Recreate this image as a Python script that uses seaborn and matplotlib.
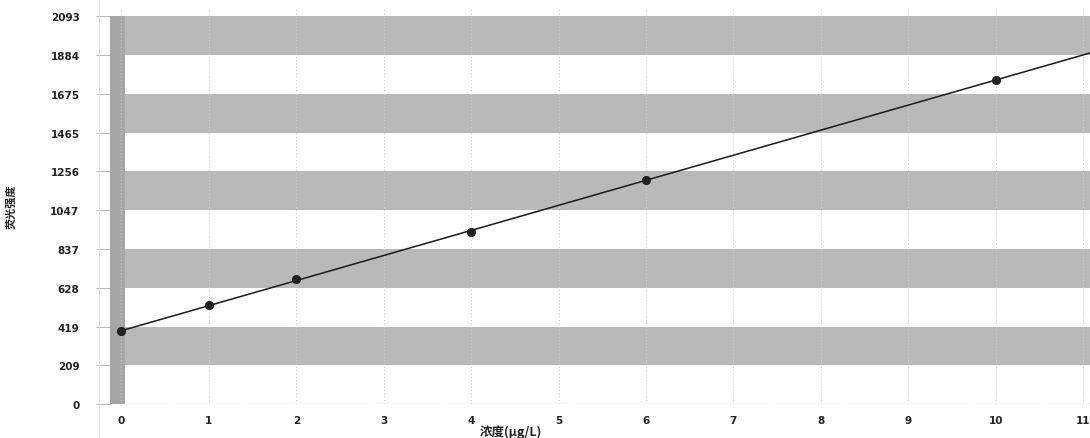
import numpy as np
import pandas as pd
import matplotlib
matplotlib.use("Agg")
import matplotlib.pyplot as plt
import seaborn as sns

# Calibration standards: concentration vs fluorescence intensity
conc = [0, 1, 2, 4, 6, 10]
intensity = [394, 534, 674, 928, 1208, 1750]
y_ticks = [0, 209, 419, 628, 837, 1047, 1256, 1465, 1675, 1884, 2093]
x_ticks = list(range(0, 12))

sns.set_theme(style="white")
plt.rcParams["font.family"] = ["Noto Sans CJK SC", "DejaVu Sans"]

df = pd.DataFrame({"conc": conc, "intensity": intensity})
slope, intercept = np.polyfit(conc, intensity, 1)

fig = plt.figure(figsize=(10.9, 4.39), dpi=100)
ax = fig.add_axes([0.101, 0.077, 0.899, 0.90])
x_lo, x_hi = -0.13, 11.08
ax.set_xlim(x_lo, x_hi)
ax.set_ylim(0, 2131)

# alternating gray bands between y ticks
for i in range(1, len(y_ticks) - 1, 2):
    ax.axhspan(y_ticks[i], y_ticks[i + 1], color="#b9b9b9", lw=0, zorder=0)
# textured strip along the left edge
ax.axvspan(x_lo, 0.04, ymin=0, ymax=y_ticks[-1] / 2131, color="#a6a6a6", lw=0, zorder=0.5)

# vertical dotted grid
for xv in x_ticks:
    ax.axvline(xv, color="#cfcfcf", lw=0.8, ls=(0, (1, 2)), zorder=0.6)
ax.axhline(0, color="#9a9a9a", lw=0.9, ls=(0, (1, 1.5)), zorder=0.7)

fit_x = np.array([0.0, x_hi])
fit = pd.DataFrame({"conc": fit_x, "intensity": intercept + slope * fit_x})
sns.lineplot(data=fit, x="conc", y="intensity", ax=ax, color="#1a1a1a", lw=1.1, zorder=3)
sns.scatterplot(data=df, x="conc", y="intensity", ax=ax, color="#222222",
                marker="o", s=36, edgecolor="#111111", zorder=4)

tick_font = dict(family="DejaVu Sans", size=7.5, weight="bold", color="#222222")
ax.set_xticks(x_ticks)
ax.set_yticks(y_ticks)
ax.set_xticklabels([str(v) for v in x_ticks], **tick_font)
ax.set_yticklabels([str(v) for v in y_ticks], **tick_font)
ax.tick_params(axis="y", length=10, width=0.6, color="#aaaaaa", pad=12, left=True)
ax.tick_params(axis="x", length=0, pad=8)
for t in ax.yaxis.get_ticklines():
    t.set_linestyle((0, (1, 1.5)))
for sp in ax.spines.values():
    sp.set_visible(False)

ax.set_xlabel("")
ax.set_ylabel("")
fig.text(0.469, 0.016, "浓度(μg/L)", fontsize=9, fontweight="bold", color="#222222",
         ha="center", va="center")
fig.text(0.010, 0.528, "荧光强度", fontsize=8, fontweight="bold", color="#222222",
         ha="center", va="center", rotation=90)

# thin vertical divider left of the tick labels
fig.add_artist(plt.Line2D([0.0905, 0.0905], [0.0, 1.0], color="#e6e6e6", lw=0.8))

fig.savefig("out.png", dpi=100)
